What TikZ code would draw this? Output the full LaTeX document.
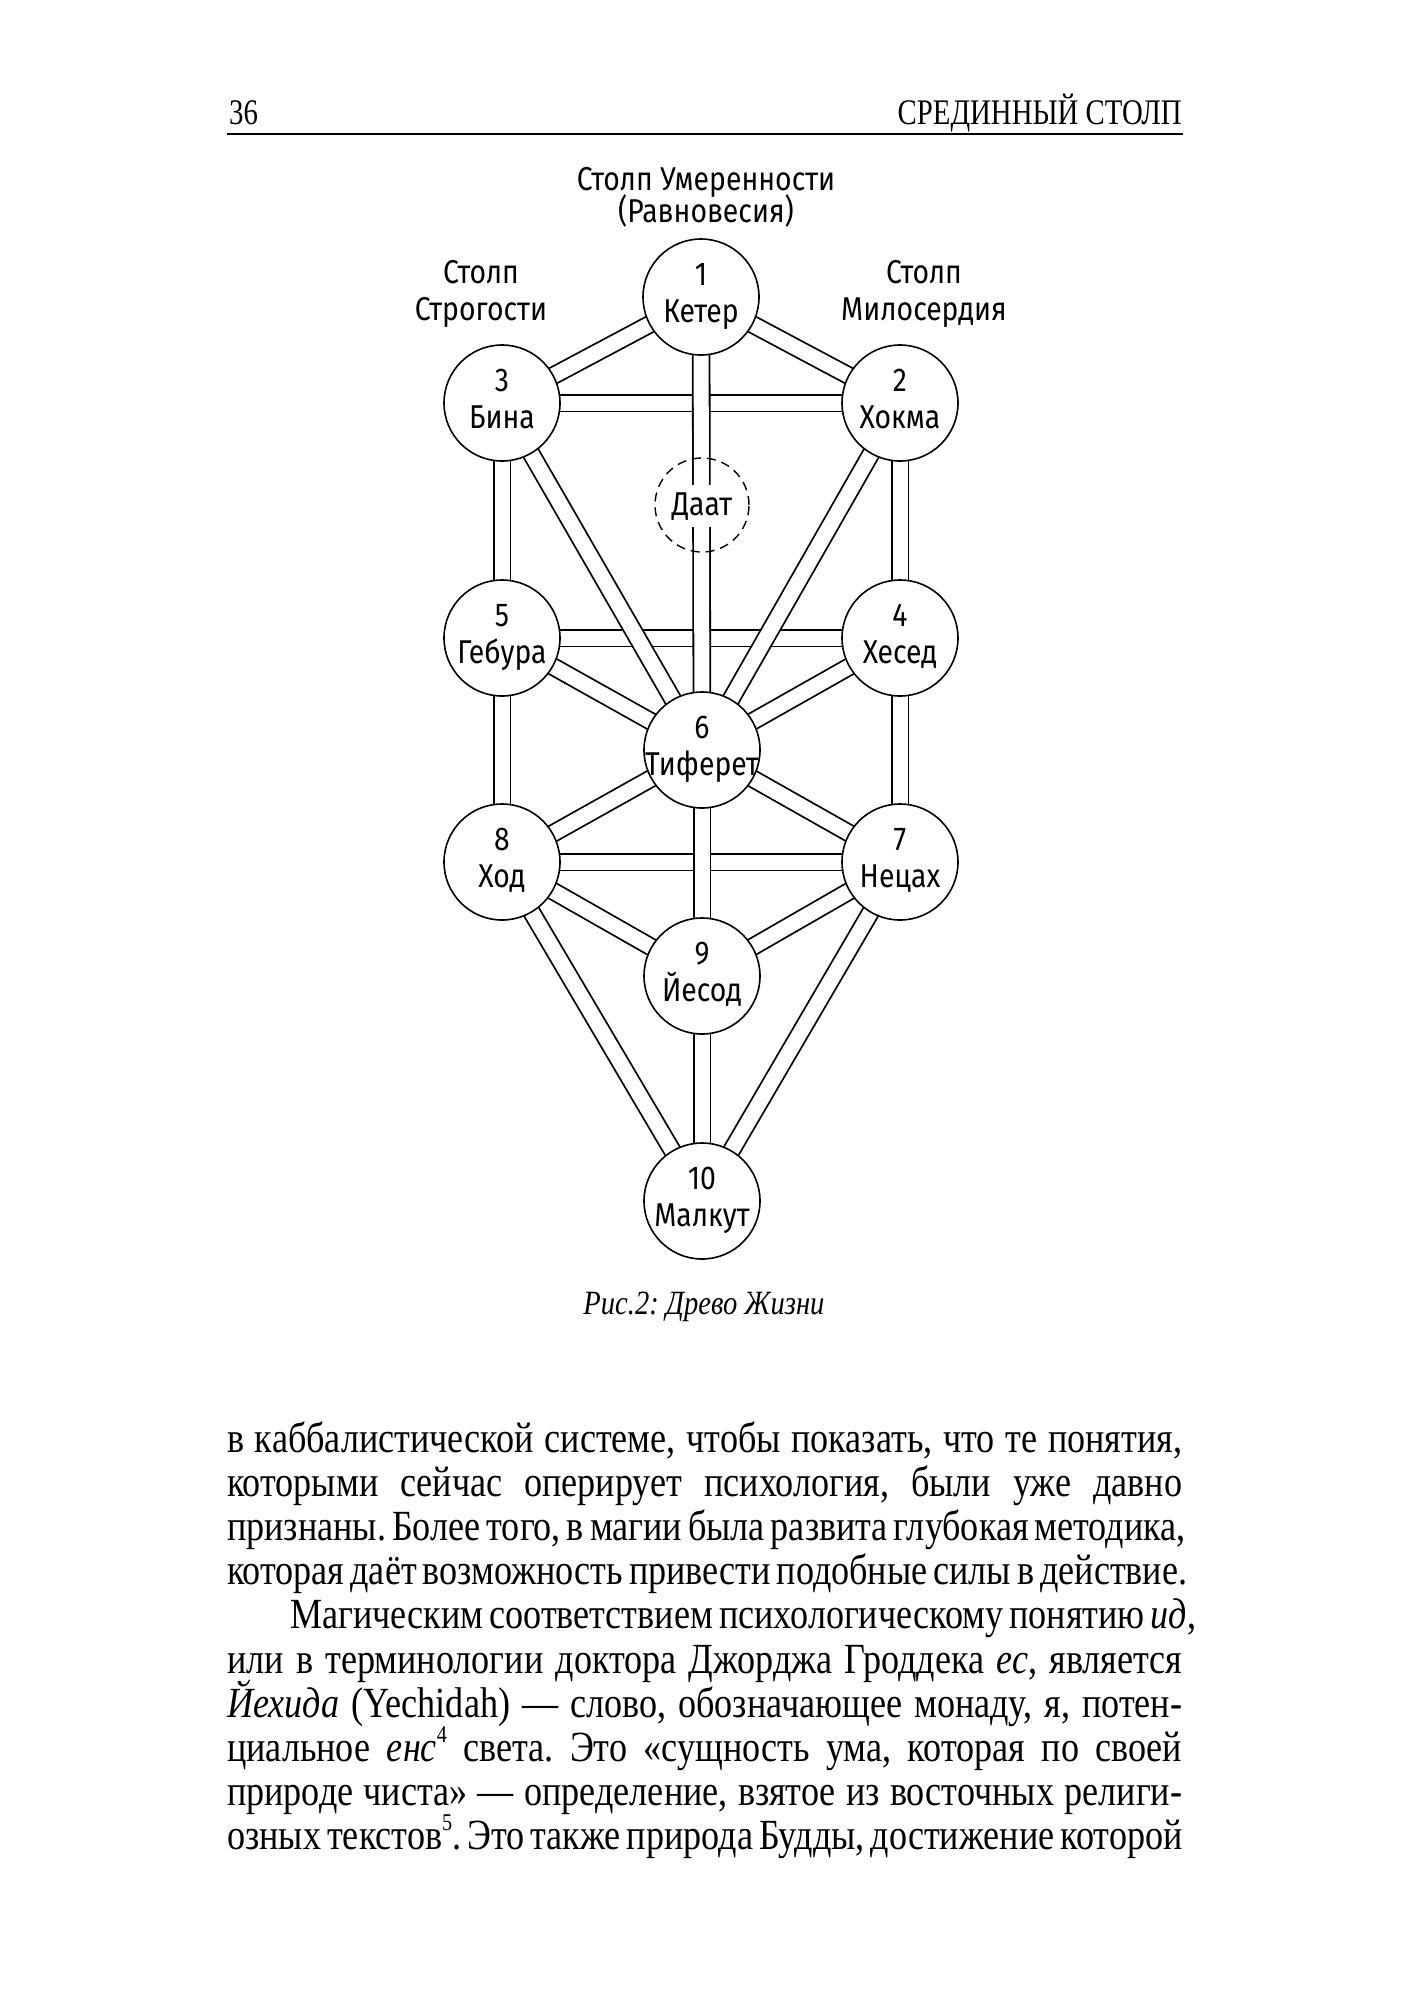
\documentclass[tikz,border=0pt]{standalone}
\usepackage{fontspec}
\usetikzlibrary{calc}
\setmainfont{Liberation Serif}[FakeStretch=0.84]
\newfontfamily\dsans{Fira Sans}[FakeStretch=0.86]
\newfontfamily\capfont{Liberation Serif}[FakeStretch=0.8]
\newcommand\supn[1]{\raisebox{0.42em}{\fontsize{24}{24}\selectfont #1}}
\frenchspacing
\begin{document}
\begin{tikzpicture}[x=1pt,y=-1pt,
  sefira/.style={circle, draw, line width=1.6pt, fill=white, minimum size=116pt, inner sep=0pt},
  daatc/.style={circle, draw, dashed, dash pattern=on 9pt off 6pt, line width=1.4pt, minimum size=94pt, inner sep=0pt},
  channel/.style={draw, line width=1.8pt, double=white, double distance=15pt},
  lbl/.style={font=\dsans\fontsize{33}{37}\selectfont, inner sep=0pt, anchor=base},
  body/.style={font=\fontsize{43}{44}\selectfont, inner sep=0pt, anchor=base west},
  head/.style={font=\capfont\fontsize{36}{36}\selectfont, inner sep=0pt}]
\useasboundingbox (0,0) rectangle (1410,2000);
\fill[white] (0,0) rectangle (1410,2000);
% header
\node[head, anchor=base west] (pg) at (229,124) {36};
\node[head, anchor=base east] (rh) at (1182,124) {СРЕДИННЫЙ СТОЛП};
\coordinate (r1) at (227,134);
\coordinate (r2) at (1183,134);
\draw[line width=2.2pt] (r1) -- (r2);
% pillar titles
\node[lbl] (t1) at (706,190) {Столп Умеренности};
\node[lbl] (t2) at (706,222) {(Равновесия)};
\node[lbl] (tl1) at (481,283) {Столп};
\node[lbl] (tl2) at (481,320) {Строгости};
\node[lbl] (tr1) at (924,283) {Столп};
\node[lbl] (tr2) at (924,320) {Милосердия};
% centres
\coordinate (c1) at (701,297);
\coordinate (c3) at (502,403);
\coordinate (c2) at (900,403);
\coordinate (cD) at (702,505);
\coordinate (c5) at (502,638);
\coordinate (c4) at (900,638);
\coordinate (c6) at (702,750);
\coordinate (c8) at (502,862);
\coordinate (c7) at (900,862);
\coordinate (c9) at (702,976);
\coordinate (c10) at (702,1201);
% horizontal channels
\draw[channel] (c3) -- (c2);
\draw[channel] (c5) -- (c4);
\draw[channel] (c8) -- (c7);
% diagonal channels
\draw[channel] (c1) -- (c3);
\draw[channel] (c1) -- (c2);
\draw[channel] (c3) -- (c6);
\draw[channel] (c2) -- (c6);
\draw[channel] (c5) -- (c6);
\draw[channel] (c4) -- (c6);
\draw[channel] (c6) -- (c8);
\draw[channel] (c6) -- (c7);
\draw[channel] (c8) -- (c9);
\draw[channel] (c7) -- (c9);
\draw[channel] (c8) -- (c10);
\draw[channel] (c7) -- (c10);
% vertical channels
\draw[channel] (c3) -- (c5);
\draw[channel] (c5) -- (c8);
\draw[channel] (c2) -- (c4);
\draw[channel] (c4) -- (c7);
\draw[channel] (c1) -- (c6);
\draw[channel] (c6) -- (c9);
\draw[channel] (c9) -- (c10);
% spheres
\node[sefira] (s1) at (c1) {};
\node[sefira] (s2) at (c2) {};
\node[sefira] (s3) at (c3) {};
\node[sefira] (s4) at (c4) {};
\node[sefira] (s5) at (c5) {};
\node[sefira] (s6) at (c6) {};
\node[sefira] (s7) at (c7) {};
\node[sefira] (s8) at (c8) {};
\node[sefira] (s9) at (c9) {};
\node[sefira] (s10) at (c10) {};
\node[daatc] (sD) at (cD) {};
\node[lbl, fill=white, inner ysep=7pt, inner xsep=2pt] (nD) at ($(cD)+(0,10)$) {Даат};
% sphere texts
\foreach \n/\num/\name in {1/1/Кетер,2/2/Хокма,3/3/Бина,4/4/Хесед,5/5/Гебура,6/6/Тиферет,7/7/Нецах,8/8/Ход,9/9/Йесод,10/10/Малкут}{
  \node[lbl] (n\n) at ($(c\n)+(0,-12)$) {\num};
  \node[lbl] (m\n) at ($(c\n)+(0,25)$) {\name};
}
% caption
\node[font=\itshape\fontsize{34}{34}\selectfont, inner sep=0pt, anchor=base] (cap) at (704,1314) {Рис.2: Древо Жизни};
% body text
\node[body] (l1) at (227,1452) {\makebox[955pt][s]{в каббалистической системе, чтобы показать, что те понятия,}};
\node[body] (l2) at (227,1496) {\makebox[955pt][s]{которыми сейчас оперирует психология, были уже давно}};
\node[body] (l3) at (227,1540) {\makebox[955pt][s]{признаны. Более того, в магии была развита глубокая методика,}};
\node[body] (l4) at (227,1584) {\makebox[955pt][s]{которая даёт возможность привести подобные силы в действие.}};
\node[body] (l5) at (290,1628) {\makebox[892pt][s]{Магическим соответствием психологическому понятию \textit{ид},}};
\node[body] (l6) at (227,1673) {\makebox[955pt][s]{или в терминологии доктора Джорджа Гроддека \textit{ес}, является}};
\node[body] (l7) at (227,1717) {\makebox[955pt][s]{\textit{Йехида} (Yechidah) — слово, обозначающее монаду, я, потен-}};
\node[body] (l8) at (227,1761) {\makebox[955pt][s]{циальное \textit{енс}\supn{4} света. Это «сущность ума, которая по своей}};
\node[body] (l9) at (227,1805) {\makebox[955pt][s]{природе чиста» — определение, взятое из восточных религи-}};
\node[body] (l10) at (227,1849) {\makebox[955pt][s]{озных текстов\supn{5}. Это также природа Будды, достижение которой}};
\end{tikzpicture}
\end{document}
